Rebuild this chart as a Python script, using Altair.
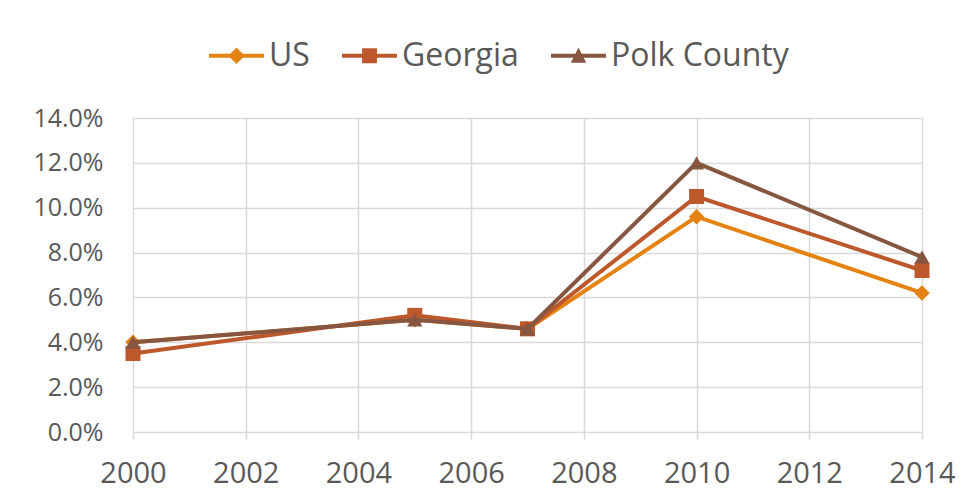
import altair as alt
import pandas as pd

years = [2000, 2005, 2007, 2010, 2014]
series_names = ["US", "Georgia", "Polk County"]
us = [0.040, 0.050, 0.046, 0.096, 0.062]
georgia = [0.035, 0.052, 0.046, 0.105, 0.072]
polk = [0.040, 0.050, 0.046, 0.120, 0.078]
colors = ["#E48312", "#BD582C", "#865640"]
shapes = ["diamond", "square", "triangle-up"]
marker_sizes = [240, 225, 230]
x_ticks = [2000, 2002, 2004, 2006, 2008, 2010, 2012, 2014]
y_ticks = [0.0, 0.02, 0.04, 0.06, 0.08, 0.10, 0.12, 0.14]

rows = []
for name, vals in zip(series_names, [us, georgia, polk]):
    for yr, v in zip(years, vals):
        rows.append({"year": yr, "value": v, "series": name})
df = pd.DataFrame(rows)

FONT = "Open Sans"
TXT = "#595959"
GRID = "#d9d9d9"

x_enc = alt.X(
    "year:Q",
    scale=alt.Scale(domain=[2000, 2014], nice=False, zero=False),
    axis=alt.Axis(values=x_ticks, format="d", title=None, grid=True,
                  gridColor=GRID, gridWidth=1.5, domain=False,
                  ticks=True, tickColor=GRID, tickWidth=1.5, tickSize=7,
                  labelFont=FONT, labelFontSize=29, labelColor=TXT,
                  labelPadding=20, labelFlush=False, labelOverlap=False),
)
y_enc = alt.Y(
    "value:Q",
    scale=alt.Scale(domain=[0, 0.14], nice=False),
    axis=alt.Axis(values=y_ticks, format=".1%", title=None, grid=True,
                  gridColor=GRID, gridWidth=1.5, domain=False, ticks=False,
                  labelFont=FONT, labelFontSize=25, labelColor=TXT,
                  labelPadding=30, labelOverlap=False),
)

base = alt.Chart(df)
layers = []
for name, c, shp, sz in zip(series_names, colors, shapes, marker_sizes):
    sub = base.transform_filter(alt.datum.series == name)
    layers.append(sub.mark_line(color=c, strokeWidth=4).encode(x=x_enc, y=y_enc))
    layers.append(sub.mark_point(shape=shp, filled=True, size=sz, color=c,
                                 opacity=1, strokeWidth=0).encode(x=x_enc, y=y_enc))

# legend symbols: a line with the series marker in its middle
legend_paths = [
    "M-1,-0.07H1V0.07H-1Z M0,-0.3L0.3,0L0,0.3L-0.3,0Z",
    "M-1,-0.07H1V0.07H-1Z M-0.27,-0.27H0.27V0.27H-0.27Z",
    "M-1,-0.07H1V0.07H-1Z M0,-0.3L0.28,0.25L-0.28,0.25Z",
]
legend_layer = base.transform_filter("false").mark_point(
    filled=True, opacity=1, size=3025, strokeWidth=0
).encode(
    x=x_enc, y=y_enc,
    color=alt.Color("series:N", scale=alt.Scale(domain=series_names, range=colors),
                    legend=alt.Legend(title=None, orient="none", direction="horizontal",
                                      legendX=76, legendY=-90,
                                      symbolSize=3025, symbolStrokeWidth=0,
                                      labelFont=FONT, labelFontSize=32, labelColor=TXT,
                                      labelOffset=5, columnPadding=32, labelLimit=400,
                                      symbolOpacity=1)),
    shape=alt.Shape("series:N", scale=alt.Scale(domain=series_names, range=legend_paths)),
)
layers.append(legend_layer)

chart = alt.layer(*layers).properties(
    width=789, height=314,
    autosize=alt.AutoSizeParams(type="none"),
    padding={"left": 125, "top": 110, "right": 43, "bottom": 60},
).configure_view(strokeWidth=0).configure(background="white")

chart.save("out.html", embed_options={"renderer": "svg", "actions": False})
